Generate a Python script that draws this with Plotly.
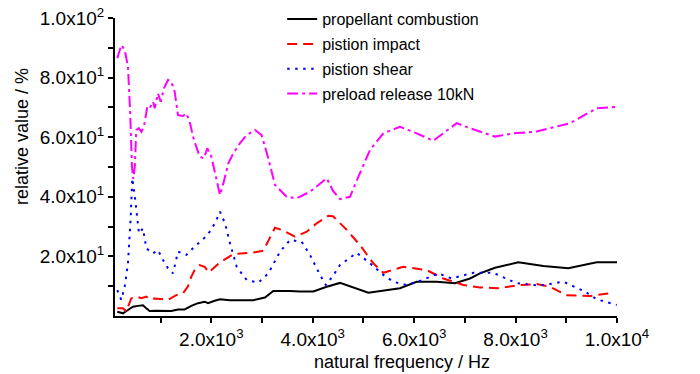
import plotly.graph_objects as go

# ---------------- data ----------------
comb_x = [145, 258, 356, 455, 553, 652, 717, 783, 915, 1047, 1211, 1342, 1474, 1605, 1737, 1868, 1934, 2065, 2171,
          2368, 2827, 3057, 3222, 3551, 3748, 4011, 4275, 4537, 5096, 5720, 6049, 6443, 6805, 7101, 7298, 7594,
          8053, 8548, 9040, 9600, 10000]
comb_y = [1.4, 0.9, 2.0, 3.1, 3.4, 3.6, 2.6, 1.7, 1.8, 1.7, 1.7, 2.2, 2.2, 3.4, 4.3, 4.8, 4.3, 5.1, 5.6,
          5.3, 5.3, 6.2, 8.4, 8.4, 8.2, 8.2, 9.8, 11.1, 7.8, 9.3, 11.5, 11.5, 11.0, 12.6, 14.3, 16.2,
          18.0, 16.8, 16.0, 18.0, 18.0]

impact_x = [145, 258, 323, 420, 521, 620, 717, 783, 882, 1000, 1145, 1309, 1441, 1540, 1605, 1671, 1770, 1868,
            1950, 2150, 2433, 2796, 3024, 3255, 3387, 3650, 3880, 4077, 4306, 4400, 4670, 4931, 5194, 5391,
            5786, 6247, 6575, 6969, 7298, 7627, 8087, 8416, 8679, 9008, 9467, 9927]
impact_y = [2.6, 2.6, 1.5, 5.9, 6.5, 6.0, 6.5, 5.6, 5.9, 5.7, 5.4, 7.0, 7.6, 10.0, 13.2, 15.4, 17.1, 16.5,
            14.6, 17.7, 20.8, 21.2, 21.9, 29.6, 28.9, 26.6, 28.3, 31.1, 33.6, 33.5, 28.9, 23.8, 17.7, 14.5,
            16.5, 15.4, 12.6, 10.4, 9.6, 9.3, 10.4, 10.7, 9.8, 7.0, 6.7, 7.8]

shear_x = [145, 224, 291, 356, 410, 441, 500, 540, 573, 652, 717, 849, 948, 1047, 1145, 1244, 1342, 1506, 1671,
           1835, 2000, 2098, 2171, 2270, 2368, 2500, 2697, 2926, 3123, 3354, 3551, 3782, 3945, 4143, 4260,
           4400, 4537, 4866, 5129, 5391, 5588, 5852, 6150, 6476, 6739, 7166, 7561, 8022, 8482, 8942, 9369,
           9600, 9994]
shear_y = [8.7, 5.4, 9.8, 17.7, 33.3, 46.2, 38.9, 32.2, 27.7, 29.4, 22.7, 21.0, 22.1, 18.8, 16.0, 14.3, 21.6,
           20.5, 23.3, 25.7, 28.9, 32.2, 35.0, 31.1, 24.4, 16.5, 12.1, 11.2, 14.3, 21.6, 25.5, 24.9, 20.5,
           13.8, 10.4, 13.5, 17.1, 21.2, 17.7, 13.8, 11.5, 10.4, 12.0, 14.3, 12.6, 14.5, 14.5, 11.0, 10.2,
           11.5, 8.2, 5.6, 3.7]

preload_x = [145, 224, 291, 356, 400, 435, 460, 490, 520, 570, 620, 670, 737, 783, 850, 883, 948, 1001, 1066,
             1145, 1211, 1277, 1342, 1441, 1506, 1572, 1658, 1770, 1855, 1920, 2000, 2098, 2171, 2237, 2335,
             2434, 2565, 2697, 2861, 2992, 3123, 3255, 3486, 3683, 3945, 4275, 4400, 4537, 4734, 4898, 5129,
             5391, 5720, 6049, 6377, 6838, 7101, 7594, 7955, 8416, 9073, 9600, 9994]
preload_y = [86.5, 90.9, 89.3, 83.7, 68.0, 50.0, 46.0, 50.0, 62.4, 63.0, 61.8, 63.5, 70.2, 69.7, 71.9, 69.7,
             74.7, 71.9, 76.4, 79.2, 78.6, 75.3, 67.4, 67.1, 68.0, 65.2, 59.0, 53.5, 52.9, 56.3, 53.5, 45.6,
             40.6, 44.5, 51.2, 54.6, 58.0, 60.7, 62.4, 60.7, 52.9, 44.0, 40.0, 39.5, 41.7, 46.2, 42.0, 39.2,
             40.0, 46.7, 55.7, 61.3, 63.5, 61.3, 58.8, 64.7, 63.0, 60.2, 61.3, 61.9, 64.7, 69.7, 70.2]

names = ["propellant combustion", "pistion impact", "pistion shear", "preload release 10kN"]

x_tickvals = [1000, 2000, 3000, 4000, 5000, 6000, 7000, 8000, 9000, 10000]
x_ticktext = ["", "2.0x10<sup>3</sup>", "", "4.0x10<sup>3</sup>", "", "6.0x10<sup>3</sup>", "",
              "8.0x10<sup>3</sup>", "", "1.0x10<sup>4</sup>"]
y_tickvals = [10, 20, 30, 40, 50, 60, 70, 80, 90, 100]
y_ticktext = ["", "2.0x10<sup>1</sup>", "", "4.0x10<sup>1</sup>", "", "6.0x10<sup>1</sup>", "",
              "8.0x10<sup>1</sup>", "", "1.0x10<sup>2</sup>"]

# ---------------- figure ----------------
FONT = "Liberation Sans, Arial, sans-serif"
fig = go.Figure()
series = [
    (comb_x, comb_y, "black", "solid"),
    (impact_x, impact_y, "#ff0000", "10px,6px"),
    (shear_x, shear_y, "#0000ff", "2.5px,5.5px"),
    (preload_x, preload_y, "#ff00ff", "11px,4px,3px,4px"),
]
for i, (xs, ys, col, dash) in enumerate(series):
    fig.add_trace(go.Scatter(x=xs, y=ys, mode="lines", name=names[i], legendgroup=f"g{i}",
                             line=dict(color=col, width=2, dash=dash)))

fig.update_layout(
    width=700, height=374,
    margin=dict(l=115, r=83, t=18, b=58, autoexpand=False),
    paper_bgcolor="white", plot_bgcolor="white",
    font=dict(family=FONT, color="black", size=18),
    legend=dict(x=0.333, y=1.053, xanchor="left", yanchor="top",
                bgcolor="rgba(0,0,0,0)", font=dict(size=16, family=FONT, color="black"),
                tracegroupgap=1),
    showlegend=True,
)
fig.update_xaxes(range=[100, 10000], showgrid=False, zeroline=False, showline=True, linecolor="black",
                 linewidth=2, ticks="outside", ticklen=5, tickwidth=1.5, tickcolor="black", automargin=False,
                 tickvals=x_tickvals, ticktext=x_ticktext, tickfont=dict(size=19))
fig.update_yaxes(range=[0, 100], showgrid=False, zeroline=False, showline=True, linecolor="black",
                 linewidth=2, ticks="outside", ticklen=5, tickwidth=1.5, tickcolor="black", automargin=False,
                 tickvals=y_tickvals, ticktext=y_ticktext, tickfont=dict(size=19))

fig.add_annotation(text="natural frequency / Hz", xref="paper", yref="paper", x=0.572, y=-0.154,
                   showarrow=False, font=dict(size=18), xanchor="center", yanchor="middle")
fig.add_annotation(text="relative value / %", xref="paper", yref="paper", x=-0.185, y=0.601,
                   showarrow=False, font=dict(size=18), textangle=-90, xanchor="center", yanchor="middle")

fig.write_html("out.html", config={"displayModeBar": False},
               post_script="document.body.style.margin='0';document.body.style.overflow='hidden';")
